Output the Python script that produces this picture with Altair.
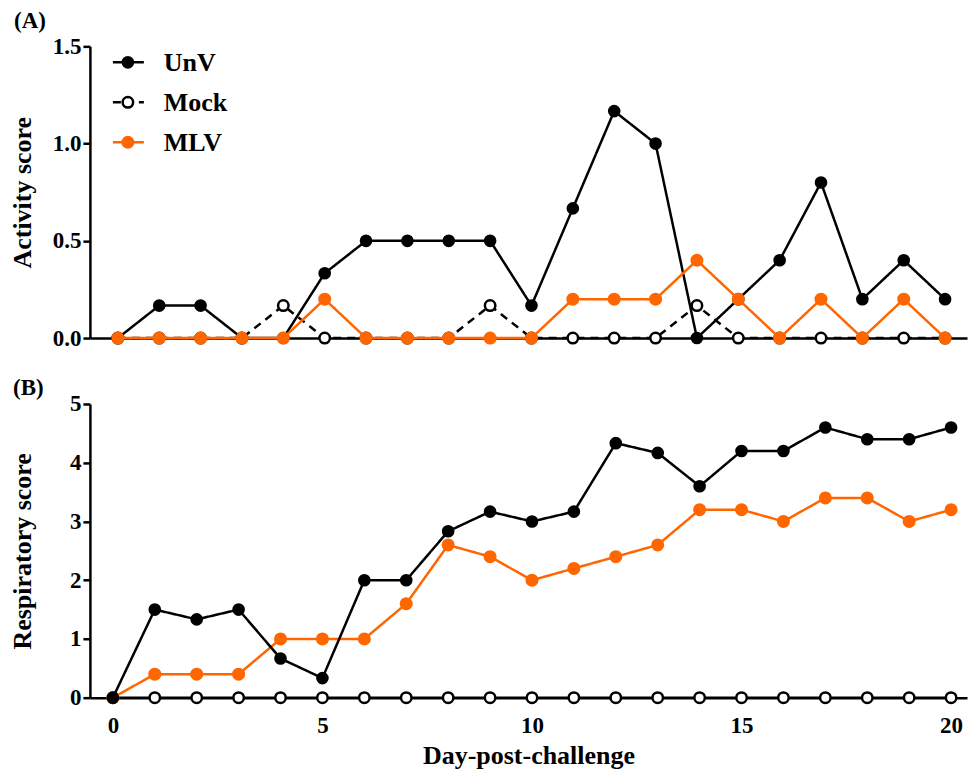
import altair as alt
import pandas as pd

# ---------------- data ----------------
days = list(range(21))

act_unv = [0, 0.167, 0.167, 0, 0, 0.333, 0.5, 0.5, 0.5, 0.5, 0.167,
           0.667, 1.167, 1.0, 0, 0.2, 0.4, 0.8, 0.2, 0.4, 0.2]
act_mock = [0, 0, 0, 0, 0.167, 0, 0, 0, 0, 0.167, 0,
            0, 0, 0, 0.167, 0, 0, 0, 0, 0, 0]
act_mlv = [0, 0, 0, 0, 0, 0.2, 0, 0, 0, 0, 0,
           0.2, 0.2, 0.2, 0.4, 0.2, 0, 0.2, 0, 0.2, 0]

resp_unv = [0, 1.5, 1.333, 1.5, 0.667, 0.333, 2, 2, 2.833, 3.167, 3.0,
            3.167, 4.333, 4.167, 3.6, 4.2, 4.2, 4.6, 4.4, 4.4, 4.6]
resp_mock = [0, 0, 0, 0, 0, 0, 0, 0, 0, 0, 0,
             0, 0, 0, 0, 0, 0, 0, 0, 0, 0]
resp_mlv = [0, 0.4, 0.4, 0.4, 1, 1, 1, 1.6, 2.6, 2.4, 2.0,
            2.2, 2.4, 2.6, 3.2, 3.2, 3.0, 3.4, 3.4, 3.0, 3.2]

series_names = ["UnV", "Mock", "MLV"]
act_ticks = [0, 0.5, 1.0, 1.5]
resp_ticks = [0, 1, 2, 3, 4, 5]
day_ticks = [0, 5, 10, 15, 20]

# ---------------- styling ----------------
FONT = "Liberation Serif"
BLACK = "#000000"
ORANGE = "#FF6600"
STYLE = {
    "UnV": dict(color=BLACK, fill=BLACK, dash=[1, 0], size=160, sw=0),
    "Mock": dict(color=BLACK, fill="#FFFFFF", dash=[8, 6], size=110, sw=2.5),
    "MLV": dict(color=ORANGE, fill=ORANGE, dash=[1, 0], size=170, sw=0),
}

W = 878
HA = 292
HB = 294


def series(vals, name, xenc, yenc, dash=None):
    st = STYLE[name]
    df = pd.DataFrame({"day": days, "value": vals})
    base = alt.Chart(df).encode(x=xenc, y=yenc)
    line = base.mark_line(
        color=st["color"], strokeWidth=2.5,
        strokeDash=dash if dash is not None else st["dash"],
    )
    pts = base.mark_point(
        shape="circle", filled=True, fill=st["fill"], opacity=1,
        stroke=BLACK if name == "Mock" else st["fill"],
        strokeWidth=st["sw"] if name == "Mock" else 0,
        size=st["size"],
    )
    return [line, pts]


def legend_item(idx, name):
    st = STYLE[name]
    yv = 16 + 40 * idx
    d = pd.DataFrame({"label": [name]})
    b = alt.Chart(d)
    rule = b.mark_rule(color=st["color"], strokeWidth=2.5,
                       strokeDash=[8, 5] if name == "Mock" else [1, 0]).encode(
        x=alt.value(23), x2=alt.value(54), y=alt.value(yv))
    pt = b.mark_point(shape="circle", filled=True, fill=st["fill"], opacity=1,
                      stroke=BLACK if name == "Mock" else st["fill"],
                      strokeWidth=st["sw"] if name == "Mock" else 0,
                      size=st["size"]).encode(x=alt.value(38), y=alt.value(yv))
    txt = b.mark_text(align="left", baseline="middle", font=FONT, fontWeight="bold",
                      fontSize=26, color=BLACK).encode(
        x=alt.value(74), y=alt.value(yv + 1), text="label:N")
    return [rule, pt, txt]


def panel_label(text, dx, dy):
    return alt.Chart(pd.DataFrame({"t": [text]})).mark_text(
        align="left", baseline="alphabetic", font=FONT, fontWeight="bold",
        fontSize=23, color=BLACK).encode(x=alt.value(dx), y=alt.value(dy), text="t:N")


# ---------------- panel A ----------------
xA = alt.X("day:Q", scale=alt.Scale(domain=[-0.676, 20.53], nice=False, zero=False),
           axis=alt.Axis(labels=False, ticks=False, title=None))
yA = alt.Y("value:Q", scale=alt.Scale(domain=[0, 1.5], nice=False),
           axis=alt.Axis(values=act_ticks, format=".1f", title="Activity score",
                         titleX=-54))

layersA = []
layersA += series(act_unv, "UnV", xA, yA)
layersA += series(act_mock, "Mock", xA, yA)
layersA += series(act_mlv, "MLV", xA, yA)
for i, n in enumerate(series_names):
    layersA += legend_item(i, n)
layersA.append(panel_label("(A)", -76, -18))

panelA = alt.layer(*layersA).properties(width=W, height=HA)

# ---------------- panel B ----------------
xB = alt.X("day:Q", scale=alt.Scale(domain=[-0.548, 20.38], nice=False, zero=False),
           axis=alt.Axis(values=day_ticks, ticks=False, labelPadding=17,
                         title="Day-post-challenge", titlePadding=5))
yB = alt.Y("value:Q", scale=alt.Scale(domain=[0, 5], nice=False),
           axis=alt.Axis(values=resp_ticks, format="d", title="Respiratory score",
                         titleX=-54))

layersB = []
layersB += series(resp_mock, "Mock", xB, yB, dash=[1, 0])
layersB += series(resp_mlv, "MLV", xB, yB)
layersB += series(resp_unv, "UnV", xB, yB)
layersB.append(panel_label("(B)", -77, -9))

panelB = alt.layer(*layersB).properties(width=W, height=HB)

chart = alt.vconcat(panelA, panelB, spacing=66, bounds="flush").properties(
    padding={"left": 1, "top": 2, "right": 2, "bottom": 0}
).configure_view(stroke=None).configure_axis(
    grid=False,
    domainColor=BLACK, domainWidth=2.5,
    tickColor=BLACK, tickWidth=2.5, tickSize=7,
    labelFont=FONT, labelFontSize=23, labelFontWeight="bold", labelColor=BLACK,
    labelPadding=2,
    titleFont=FONT, titleFontSize=26, titleFontWeight="bold", titleColor=BLACK,
)

chart.save("out.html", embed_options={"renderer": "svg", "actions": False})
